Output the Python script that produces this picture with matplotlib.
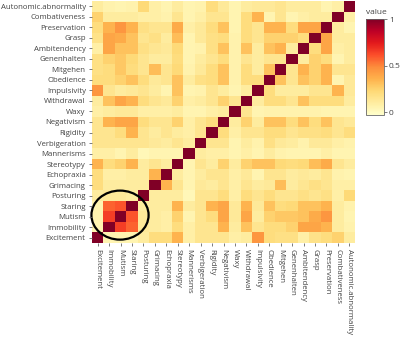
import numpy as np
import matplotlib
matplotlib.use("Agg")
import matplotlib.pyplot as plt
from matplotlib.patches import Ellipse

labels = ["Excitement", "Immobility", "Mutism", "Staring", "Posturing", "Grimacing",
          "Echopraxia", "Stereotypy", "Mannerisms", "Verbigeration", "Rigidity",
          "Negativism", "Waxy", "Withdrawal", "Impulsivity", "Obedience", "Mitgehen",
          "Genenhalten", "Ambitendency", "Grasp", "Preservation", "Combativeness",
          "Autonomic.abnormality"]

# lower triangle rows: row j holds correlations with columns 0..j-1
lower = [
    [],
    [0.05],
    [0.05, 0.65],
    [0.05, 0.57, 0.6],
    [0.1, 0.12, 0.12, 0.1],
    [0.2, 0.1, 0.1, 0.1, 0.1],
    [0.2, 0.08, 0.08, 0.1, 0.1, 0.35],
    [0.35, 0.2, 0.25, 0.35, 0.1, 0.15, 0.1],
    [0.08, 0.08, 0.05, 0.1, 0.03, 0.05, 0.05, 0.05],
    [0.15, 0.15, 0.15, 0.15, 0.15, 0.12, 0.1, 0.15, 0.1],
    [0.15, 0.15, 0.2, 0.35, 0.15, 0.1, 0.15, 0.1, 0.08, 0.15],
    [0.15, 0.35, 0.4, 0.4, 0.2, 0.15, 0.15, 0.25, 0.08, 0.15, 0.2],
    [0.08, 0.1, 0.12, 0.12, 0.08, 0.08, 0.08, 0.1, 0.05, 0.05, 0.08, 0.1],
    [0.1, 0.3, 0.4, 0.35, 0.2, 0.15, 0.12, 0.25, 0.08, 0.1, 0.15, 0.25, 0.15],
    [0.45, 0.15, 0.1, 0.12, 0.15, 0.1, 0.05, 0.3, 0.05, 0.06, 0.15, 0.1, 0.05, 0.1],
    [0.2, 0.2, 0.25, 0.3, 0.2, 0.12, 0.15, 0.3, 0.1, 0.18, 0.2, 0.3, 0.06, 0.2, 0.2],
    [0.18, 0.2, 0.28, 0.2, 0.15, 0.32, 0.15, 0.22, 0.06, 0.12, 0.2, 0.3, 0.06, 0.2, 0.1, 0.3],
    [0.18, 0.25, 0.28, 0.22, 0.15, 0.1, 0.1, 0.2, 0.05, 0.1, 0.15, 0.2, 0.06, 0.15, 0.1, 0.15, 0.15],
    [0.08, 0.4, 0.3, 0.3, 0.18, 0.14, 0.12, 0.22, 0.05, 0.06, 0.18, 0.3, 0.06, 0.3, 0.1, 0.3, 0.35, 0.1],
    [0.17, 0.4, 0.38, 0.3, 0.15, 0.18, 0.1, 0.32, 0.05, 0.12, 0.18, 0.2, 0.06, 0.2, 0.15, 0.25, 0.25, 0.25, 0.2],
    [0.2, 0.35, 0.45, 0.35, 0.18, 0.15, 0.15, 0.38, 0.08, 0.12, 0.2, 0.3, 0.05, 0.2, 0.15, 0.35, 0.35, 0.2, 0.4, 0.4],
    [0.25, 0.1, 0.1, 0.1, 0.08, 0.08, 0.06, 0.15, 0.05, 0.08, 0.15, 0.15, 0.05, 0.2, 0.35, 0.05, 0.15, 0.05, 0.08, 0.1, 0.1],
    [0.1, 0.06, 0.05, 0.06, 0.22, 0.08, 0.05, 0.1, 0.05, 0.06, 0.2, 0.12, 0.05, 0.1, 0.12, 0.12, 0.15, 0.1, 0.1, 0.1, 0.05, 0.08],
]

n = len(labels)
M = np.eye(n)
for j, row in enumerate(lower):
    for i, v in enumerate(row):
        M[j, i] = v
        M[i, j] = v

plt.rcParams['font.family'] = ['Open Sans', 'DejaVu Sans']
fig = plt.figure(figsize=(4.0, 3.38), dpi=100)
ax = fig.add_axes([92/400, 1 - 243/338, 263/400, 242/338])
im = ax.imshow(M, cmap='YlOrRd', vmin=-0.03, vmax=1, origin='lower', aspect='auto',
               interpolation='nearest')
ax.set_xticks(range(n))
ax.set_yticks(range(n))
ax.set_xticklabels(labels, rotation=-90, fontsize=5.6, color='#444444')
ax.set_yticklabels(labels, fontsize=5.6, color='#444444')
ax.tick_params(length=2.5, width=0.6, color='#666666', pad=2)
for s in ax.spines.values():
    s.set_visible(False)

ell = Ellipse((1.95, 2.15), width=5.0, height=4.66, fill=False, edgecolor='black',
              linewidth=1.6, clip_on=False)
ax.add_patch(ell)

cax = fig.add_axes([366/400, 1 - 115/338, 18/400, 96/338])
cb = fig.colorbar(im, cax=cax, ticks=[0, 0.5, 1])
cb.ax.set_yticklabels(['0', '0.5', '1'])
cb.ax.tick_params(labelsize=6, length=2, width=0.6, color='#666666', labelcolor='#444444', pad=1.5)
cb.outline.set_linewidth(0.6)
cb.outline.set_edgecolor('#666666')
fig.text(366/400, 1 - 13/338, 'value', fontsize=6, color='#444444', ha='left', va='center')

fig.savefig('out.png', dpi=100)
